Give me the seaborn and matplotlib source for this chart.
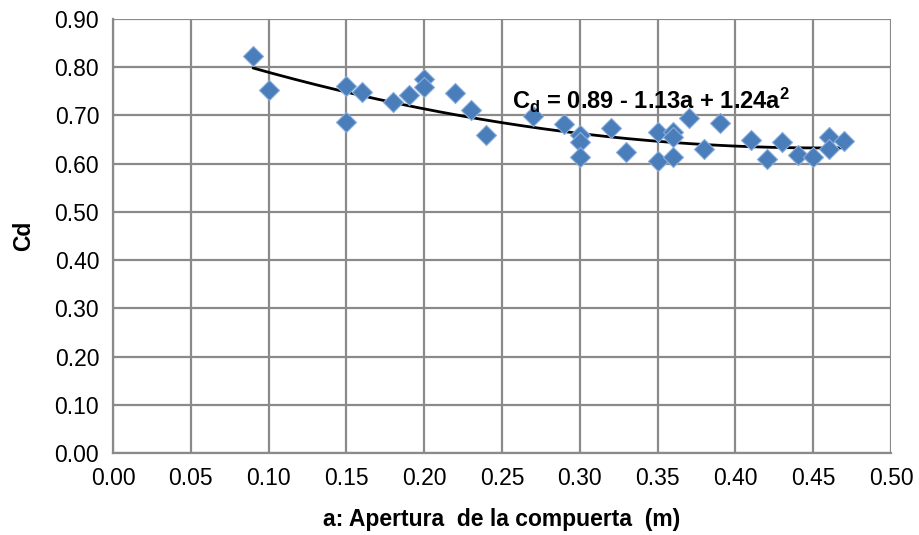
import numpy as np
import pandas as pd
import matplotlib
matplotlib.use("Agg")
import matplotlib.pyplot as plt
import seaborn as sns

# Data
apertura = [0.09, 0.10, 0.15, 0.15, 0.16, 0.18, 0.19, 0.20, 0.20, 0.22, 0.23, 0.24,
            0.27, 0.29, 0.30, 0.30, 0.30, 0.32, 0.33, 0.35, 0.35, 0.36, 0.36, 0.36,
            0.37, 0.38, 0.39, 0.41, 0.42, 0.43, 0.44, 0.45, 0.46, 0.46, 0.47]
cd = [0.824, 0.753, 0.761, 0.687, 0.749, 0.728, 0.743, 0.776, 0.759, 0.747, 0.712, 0.660,
      0.699, 0.683, 0.660, 0.645, 0.614, 0.674, 0.624, 0.666, 0.606, 0.666, 0.656, 0.614,
      0.695, 0.631, 0.685, 0.649, 0.610, 0.645, 0.618, 0.614, 0.656, 0.631, 0.647]
coef = [0.89, -1.13, 1.24]  # Cd = c0 + c1*a + c2*a^2
x_ticks = [0.00, 0.05, 0.10, 0.15, 0.20, 0.25, 0.30, 0.35, 0.40, 0.45, 0.50]
y_ticks = [0.00, 0.10, 0.20, 0.30, 0.40, 0.50, 0.60, 0.70, 0.80, 0.90]

sns.set_style("white")
plt.rcParams['font.family'] = ['Liberation Sans', 'DejaVu Sans']
plt.rcParams['axes.labelcolor'] = 'black'
plt.rcParams['text.color'] = 'black'
plt.rcParams['mathtext.fontset'] = 'custom'
plt.rcParams['mathtext.rm'] = 'Liberation Sans:bold'
plt.rcParams['mathtext.bf'] = 'Liberation Sans:bold'
plt.rcParams['mathtext.it'] = 'Liberation Sans:bold'

df = pd.DataFrame({"a": apertura, "cd": cd})
ax_x = np.linspace(min(apertura), max(apertura), 200)
fit = pd.DataFrame({"a": ax_x, "cd": coef[0] + coef[1] * ax_x + coef[2] * ax_x ** 2})

fig = plt.figure(figsize=(9.19, 5.35), dpi=100)
ax = fig.add_axes([0.123, 0.1533, 0.8465, 0.8112])

grid_c = "#8a8a8a"
ax.set_xlim(0, 0.5)
ax.set_ylim(0, 0.9)
ax.set_xticks(x_ticks)
ax.set_yticks(y_ticks)
ax.set_xticklabels([f"{v:.2f}" for v in x_ticks])
ax.set_yticklabels([f"{v:.2f}" for v in y_ticks])
ax.grid(True, color=grid_c, linewidth=1.6)
ax.set_axisbelow(True)
for s in ["top", "right"]:
    ax.spines[s].set_visible(False)
for s in ["left", "bottom"]:
    ax.spines[s].set_color(grid_c)
    ax.spines[s].set_linewidth(1.6)
ax.tick_params(axis="both", direction="out", length=6, width=1.6, color=grid_c,
               labelsize=16.5, labelcolor="black", pad=4)

sns.lineplot(data=fit, x="a", y="cd", ax=ax, color="black", linewidth=2.0, zorder=3)
sns.scatterplot(data=df, x="a", y="cd", ax=ax, marker="D", s=105,
                color="#4A7EBB", edgecolor="#8AAEDC", linewidth=0.8, zorder=4)

ax.set_xlabel("a: Apertura  de la compuerta  (m)", fontsize=16.5, fontweight="bold",
              labelpad=13, color="black")
ax.set_ylabel("Cd", fontsize=16.5, fontweight="bold", labelpad=14, color="black")

ax.text(0.2565, 0.732, r"C$_\mathrm{d}$ = 0.89 - 1.13a + 1.24a$^\mathrm{2}$",
        fontsize=17, fontweight="bold", color="black", va="center", ha="left",
        transform=ax.transData, zorder=5)

fig.savefig("out.png", dpi=100)
